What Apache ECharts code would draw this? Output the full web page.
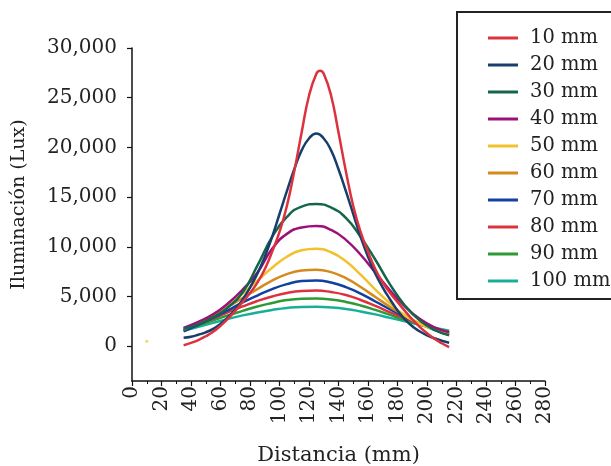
<!DOCTYPE html>
<html>
<head>
<meta charset="utf-8">
<script src="https://cdn.jsdelivr.net/npm/echarts@6/dist/echarts.min.js"></script>
<style>html,body{margin:0;padding:0;background:#fff}#c{width:611px;height:466px}</style>
</head>
<body>
<div id="c"></div>
<script>
// x positions (mm) of the sampled readings
const xsRed  = [35,40,45,50,55,60,65,70,75,80,85,90,95,100,105,110,115,120,125,127.5,130,135,140,145,150,155,160,165,170,175,180,185,190,195,200,205,210,215];
const xsFine = [35,40,45,50,55,60,65,70,75,80,85,90,95,100,105,110,115,120,125,130,135,140,145,150,155,160,165,170,175,180,185,190,195,200,205,210,215];
const xs = [35,45,55,65,75,85,95,105,115,125,135,145,155,165,175,185,195,205,215];
const seriesNames = ['10 mm','20 mm','30 mm','40 mm','50 mm','60 mm','70 mm','80 mm','90 mm','100 mm'];
// illumination (lux)
const mm10  = [100,330,620,1000,1450,2050,2750,3550,4450,5350,6400,7750,9500,11500,14100,17600,21500,25200,27400,27700,27400,25200,21500,17600,14100,11500,9500,7750,6400,5350,4450,3550,2700,1950,1300,750,300,-100];
const mm20  = [850,950,1150,1400,1750,2250,2900,3700,4700,5900,7300,9000,11000,13300,15600,17800,19700,20900,21400,20900,19700,17800,15600,13300,11000,9000,7300,5900,4700,3600,2700,2000,1500,1100,800,550,350];
const mm30  = [1750,2200,2900,3900,5400,8100,11000,13000,14050,14300,13950,12900,11000,8700,6200,4100,2600,1650,1100];
const mm40  = [1850,2450,3200,4300,5700,7400,9800,11300,11950,12100,11700,10700,9200,7400,5600,4000,2750,1900,1400];
const mm50  = [1750,2400,3200,4150,5300,6600,7900,9000,9650,9800,9450,8550,7200,5700,4300,3100,2250,1700,1350];
const mm60  = [1700,2350,3100,3950,4850,5750,6600,7250,7620,7700,7450,6850,5950,4950,3950,3050,2300,1750,1300];
const mm70  = [1500,2150,2850,3600,4400,5100,5750,6250,6550,6600,6400,5950,5300,4500,3700,2950,2250,1650,1150];
const mm80  = [1650,2200,2800,3400,4000,4550,5000,5350,5550,5600,5450,5150,4650,4050,3400,2800,2250,1750,1300];
const mm90  = [1600,2100,2600,3100,3550,4000,4350,4650,4780,4800,4700,4450,4100,3650,3150,2650,2200,1800,1450];
const mm100 = [1550,1950,2350,2750,3100,3400,3650,3850,3950,3960,3900,3750,3500,3200,2850,2500,2150,1850,1550];
const strayPoint = [[10, 500]];
const xTicks = {min: 0, max: 280, step: 20};
const yRange = {min: -3500, max: 30000};
const yTickValues = [0, 5000, 10000, 15000, 20000, 25000, 30000];

const allValues = [mm10,mm20,mm30,mm40,mm50,mm60,mm70,mm80,mm90,mm100];
const allXs = [xsRed,xsFine,xs,xs,xs,xs,xs,xs,xs,xs];
const colors = ['#dc3240','#173f6b','#13664a','#9b1079','#f2c12e','#d68a1c','#1240a0','#dc3240','#2e9a35','#1aae9a'];
const font = 'DejaVu Serif';

const series = seriesNames.map((n,i)=>({
  name: n, type: 'line', smooth: true, showSymbol: false, symbol: 'none',
  data: allXs[i].map((x,j)=>[x, allValues[i][j]]),
  lineStyle: {width: 2.5, color: colors[i]}, itemStyle: {color: colors[i]},
  z: 10 - i
}));
series.push({
  type: 'scatter', data: strayPoint, symbolSize: 3, silent: true,
  itemStyle: {color: '#e8c040', opacity: 0.7}
});

const chart = echarts.init(document.getElementById('c'), null, {renderer: 'canvas'});
chart.setOption({
  animation: false,
  backgroundColor: '#fff',
  grid: {left: 132, right: 66, top: 48, bottom: 85, containLabel: false, outerBoundsMode: 'none'},
  legend: {
    data: seriesNames, orient: 'vertical', left: 457, top: 12,
    icon: 'rect', itemWidth: 30, itemHeight: 3, itemGap: 7,
    padding: [16, 40, 8, 31],
    borderColor: '#222', borderWidth: 2, backgroundColor: '#fff',
    textStyle: {fontFamily: font, fontSize: 19.5, color: '#222', lineHeight: 20, padding: [0,0,0,7]}
  },
  xAxis: {
    type: 'value', min: xTicks.min, max: xTicks.max, interval: xTicks.step,
    name: 'Distancia (mm)', nameLocation: 'middle', nameGap: 64,
    nameTextStyle: {fontFamily: font, fontSize: 21, color: '#222'},
    axisLine: {onZero: false, lineStyle: {color: '#111', width: 1.5}},
    axisTick: {inside: false, length: 5, lineStyle: {color: '#111', width: 1.2}},
    minorTick: {show: true, splitNumber: 2, length: 3, lineStyle: {color: '#111', width: 1}},
    axisLabel: {rotate: 90, margin: 5, fontFamily: font, fontSize: 20, color: '#222'},
    splitLine: {show: false}
  },
  yAxis: {
    type: 'value', min: yRange.min, max: yRange.max,
    name: 'Iluminación (Lux)', nameLocation: 'middle', nameGap: 103,
    nameTextStyle: {fontFamily: font, fontSize: 19, color: '#222', padding: [0,0,0,20]},
    axisLine: {show: true, onZero: false, lineStyle: {color: '#111', width: 1.5}},
    axisTick: {show: true, inside: false, length: 5, customValues: yTickValues, lineStyle: {color: '#111', width: 1.2}},
    axisLabel: {margin: 15, fontFamily: font, fontSize: 20, color: '#222', customValues: yTickValues,
      formatter: v => v.toLocaleString('en-US')},
    splitLine: {show: false}
  },
  series: series
});
</script>
</body>
</html>
